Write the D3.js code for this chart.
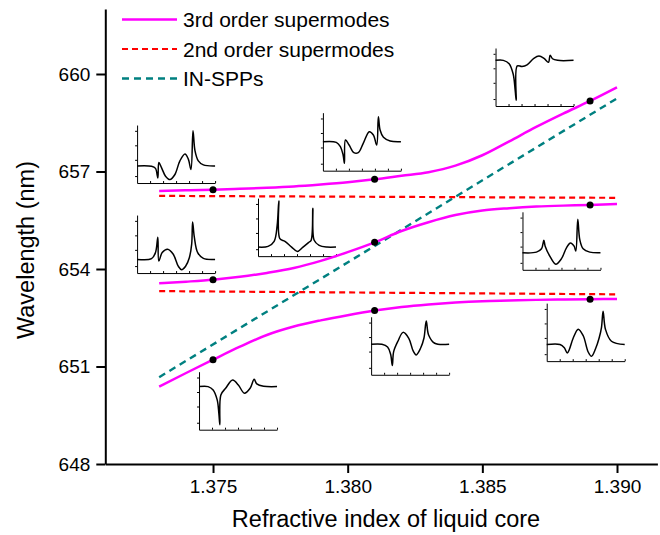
<!DOCTYPE html>
<html>
<head>
<meta charset="utf-8">
<script src="https://cdn.jsdelivr.net/npm/d3@7"></script>
<style>
  body { margin: 0; background: #fff; }
  text { font-family: "Liberation Sans", Arial, sans-serif; fill: #000; }
</style>
</head>
<body>
<div id="mainDiv"></div>
<script>
// refractive index samples for the supermode curves
var nIndex = [1.373, 1.374, 1.375, 1.376, 1.377, 1.378, 1.379, 1.380, 1.381,
              1.382, 1.383, 1.384, 1.385, 1.386, 1.387, 1.388, 1.389, 1.390];
// 3rd order supermodes (three branches), wavelength in nm
var thirdUpper = [656.40, 656.42, 656.44, 656.47, 656.50, 656.54, 656.60, 656.67, 656.76,
                  656.87, 656.98, 657.18, 657.50, 657.93, 658.37, 658.78, 659.17, 659.59];
var thirdMiddle = [653.56, 653.61, 653.67, 653.76, 653.88, 654.03, 654.25, 654.52, 654.82,
                   655.17, 655.44, 655.66, 655.80, 655.87, 655.92, 655.95, 655.97, 656.00];
var thirdLower = [650.38, 650.80, 651.21, 651.61, 651.97, 652.23, 652.42, 652.58, 652.72,
                  652.83, 652.91, 652.97, 653.01, 653.03, 653.05, 653.06, 653.07, 653.08];
// 2nd order supermodes and IN-SPPs
var nEnds = [1.373, 1.390];
var secondUpper = [656.25, 656.19];
var secondLower = [653.32, 653.22];
var inSpp = [650.67, 659.25];
// marked points
var dotN = [1.375, 1.375, 1.375, 1.381, 1.381, 1.381, 1.389, 1.389, 1.389];
var dotL = [656.44, 653.67, 651.21, 656.76, 654.82, 652.72, 659.17, 655.97, 653.07];

var xTicks = [1.375, 1.380, 1.385, 1.390];
var yTicks = [648, 651, 654, 657, 660];

// field profiles drawn in the insets, [position, amplitude] in 0..1
var profA = [[0,0.294],[0.185,0.288],[0.236,0.253],[0.266,0.088],[0.279,0.353],[0.313,0.265],[0.365,0.118],[0.421,0.059],[0.485,0.147],[0.549,0.382],[0.614,0.5],[0.657,0.412],[0.691,0.235],[0.717,0.9],[0.742,0.559],[0.785,0.382],[0.85,0.312],[1,0.294]];
var profB = [[0,0.235],[0.185,0.247],[0.236,0.353],[0.266,0.618],[0.279,0.206],[0.322,0.353],[0.391,0.412],[0.464,0.324],[0.528,0.118],[0.571,0.059],[0.622,0.118],[0.67,0.265],[0.7,0.5],[0.712,0.882],[0.734,0.618],[0.777,0.353],[0.85,0.253],[1,0.235]];
var profC = [[0,0.5],[0.172,0.489],[0.224,0.414],[0.259,0.27],[0.276,0.126],[0.289,0.529],[0.336,0.443],[0.397,0.31],[0.453,0.31],[0.517,0.471],[0.595,0.672],[0.647,0.615],[0.69,0.443],[0.711,0.931],[0.733,0.701],[0.776,0.575],[0.862,0.511],[1,0.5]];
var profD = [[0,0.157],[0.129,0.169],[0.207,0.256],[0.246,0.535],[0.267,0.953],[0.28,0.302],[0.345,0.256],[0.431,0.157],[0.504,0.081],[0.573,0.151],[0.647,0.233],[0.681,0.273],[0.703,0.826],[0.72,0.273],[0.784,0.186],[0.884,0.157],[1,0.157]];
var profE = [[0,0.787],[0.1,0.787],[0.174,0.73],[0.226,0.551],[0.252,0.27],[0.265,0.101],[0.278,0.691],[0.339,0.68],[0.404,0.708],[0.491,0.82],[0.557,0.86],[0.622,0.82],[0.678,0.753],[0.7,0.876],[0.73,0.815],[0.796,0.787],[1,0.787]];
var profF = [[0,0.294],[0.179,0.305],[0.244,0.362],[0.274,0.508],[0.291,0.407],[0.35,0.237],[0.427,0.096],[0.5,0.192],[0.564,0.379],[0.615,0.463],[0.662,0.407],[0.684,0.322],[0.709,0.87],[0.735,0.52],[0.778,0.362],[0.863,0.305],[1,0.294]];
var profG = [[0,0.743],[0.116,0.743],[0.181,0.686],[0.233,0.514],[0.254,0.286],[0.267,0.086],[0.28,0.6],[0.341,0.714],[0.431,0.857],[0.504,0.771],[0.582,0.629],[0.655,0.714],[0.707,0.869],[0.741,0.789],[0.828,0.749],[1,0.743]];
var profH = [[0,0.526],[0.138,0.526],[0.211,0.48],[0.25,0.354],[0.272,0.16],[0.289,0.4],[0.345,0.583],[0.409,0.731],[0.483,0.629],[0.539,0.411],[0.578,0.343],[0.634,0.457],[0.677,0.629],[0.707,0.926],[0.737,0.686],[0.815,0.543],[1,0.526]];
var profI = [[0,0.287],[0.17,0.287],[0.226,0.23],[0.264,0.14],[0.289,0.197],[0.34,0.399],[0.404,0.551],[0.468,0.438],[0.532,0.157],[0.574,0.084],[0.626,0.213],[0.672,0.399],[0.702,0.579],[0.723,0.86],[0.753,0.551],[0.83,0.343],[1,0.287]];

// where each inset sits (top-left corner, in data units)
var insets = [
  {n: 1.37218, l: 658.43, prof: profA},
  {n: 1.37218, l: 655.66, prof: profB},
  {n: 1.37908, l: 658.81, prof: profC},
  {n: 1.37667, l: 656.18, prof: profD},
  {n: 1.38549, l: 660.80, prof: profE},
  {n: 1.38649, l: 655.76, prof: profF},
  {n: 1.37448, l: 650.84, prof: profG},
  {n: 1.38087, l: 652.53, prof: profH},
  {n: 1.38739, l: 652.95, prof: profI}
];

var W = 660, H = 535;
var svg = d3.select("#mainDiv").append("svg")
  .attr("width", W)
  .attr("height", H);

var x = d3.scaleLinear().domain([1.371, 1.3915]).range([105.3, 657.4]);
var y = d3.scaleLinear().domain([648, 662]).range([464, 9]);

// axes
var xAxis = svg.append("g")
  .attr("transform", "translate(0,464)")
  .call(d3.axisBottom(x).tickValues(xTicks).tickSize(9).tickSizeOuter(0).tickFormat(d3.format(".3f")));
var yAxis = svg.append("g")
  .attr("transform", "translate(105.3,0)")
  .call(d3.axisLeft(y).tickValues(yTicks).tickSize(9).tickSizeOuter(0).tickFormat(d3.format("d")));
[xAxis, yAxis].forEach(function(a){
  a.select(".domain").attr("stroke", "#000").attr("stroke-width", 2);
  a.selectAll(".tick line").attr("stroke", "#000").attr("stroke-width", 2);
  a.selectAll(".tick text").attr("font-size", "19px")
    .style("font-family", "Liberation Sans, Arial, sans-serif").attr("fill", "#000");
});
xAxis.selectAll(".tick text").attr("dy", "0.71em").attr("y", 16);
yAxis.selectAll(".tick text").attr("x", -15);

svg.append("text")
  .attr("x", 386).attr("y", 527)
  .attr("text-anchor", "middle")
  .attr("font-size", "23.5px")
  .text("Refractive index of liquid core");
svg.append("text")
  .attr("transform", "translate(34,250) rotate(-90)")
  .attr("text-anchor", "middle")
  .attr("font-size", "23.5px")
  .text("Wavelength (nm)");

// insets
var iw = 78, ih = 58;
var ix = d3.scaleLinear().domain([0, 1]).range([0, iw]);
var iy = d3.scaleLinear().domain([0, 1]).range([ih, 0]);
var profLine = d3.line()
  .x(function(d){ return ix(d[0]); })
  .y(function(d){ return iy(d[1]); })
  .curve(d3.curveCatmullRom.alpha(0.5));

insets.forEach(function(b){
  var g = svg.append("g")
    .attr("transform", "translate(" + x(b.n) + "," + y(b.l) + ")");
  var ax = g.append("g").attr("transform", "translate(0," + ih + ")")
    .call(d3.axisBottom(ix).tickValues([1/6, 2/6, 3/6, 4/6, 5/6, 1]).tickSize(-2).tickSizeOuter(0).tickFormat(""));
  var ay = g.append("g")
    .call(d3.axisLeft(iy).tickValues([0.12, 0.4, 0.65, 0.9]).tickSize(2).tickSizeOuter(0).tickFormat(""));
  [ax, ay].forEach(function(a){
    a.selectAll("path, line").attr("stroke", "#000").attr("stroke-width", 1);
  });
  g.append("path")
    .datum(b.prof)
    .attr("d", profLine)
    .attr("fill", "none")
    .attr("stroke", "#000")
    .attr("stroke-width", 1.5);
});

// main curves
var line = d3.line()
  .x(function(d){ return x(d[0]); })
  .y(function(d){ return y(d[1]); })
  .curve(d3.curveMonotoneX);

function zip(xs, ys){ return xs.map(function(v, i){ return [v, ys[i]]; }); }

function drawSeries(xs, ys, color, width, dash){
  svg.append("path")
    .datum(zip(xs, ys))
    .attr("d", line)
    .attr("fill", "none")
    .attr("stroke", color)
    .attr("stroke-width", width)
    .attr("stroke-dasharray", dash);
}

drawSeries(nEnds, secondUpper, "#FF0000", 2.2, "6,4");
drawSeries(nEnds, secondLower, "#FF0000", 2.2, "6,4");
drawSeries(nEnds, inSpp, "#008080", 2.4, "7,5");
drawSeries(nIndex, thirdUpper, "#FF00FF", 2.5, null);
drawSeries(nIndex, thirdMiddle, "#FF00FF", 2.5, null);
drawSeries(nIndex, thirdLower, "#FF00FF", 2.5, null);

svg.selectAll(".dot")
  .data(zip(dotN, dotL))
  .enter().append("circle")
  .attr("class", "dot")
  .attr("cx", function(d){ return x(d[0]); })
  .attr("cy", function(d){ return y(d[1]); })
  .attr("r", 3.5)
  .attr("fill", "#000");

// legend
var legend = [
  {label: "3rd order supermodes", color: "#FF00FF", dash: null, w: 2.5},
  {label: "2nd order supermodes", color: "#FF0000", dash: "6,4", w: 2.2},
  {label: "IN-SPPs", color: "#008080", dash: "7,5", w: 2.4}
];
legend.forEach(function(d, i){
  var ly = 19.5 + i * 29.5;
  svg.append("line")
    .attr("x1", 122).attr("x2", 177)
    .attr("y1", ly).attr("y2", ly)
    .attr("stroke", d.color)
    .attr("stroke-width", d.w)
    .attr("stroke-dasharray", d.dash);
  svg.append("text")
    .attr("x", 183).attr("y", ly + 7.5)
    .attr("font-size", "21px")
    .text(d.label);
});
</script>
</body>
</html>
